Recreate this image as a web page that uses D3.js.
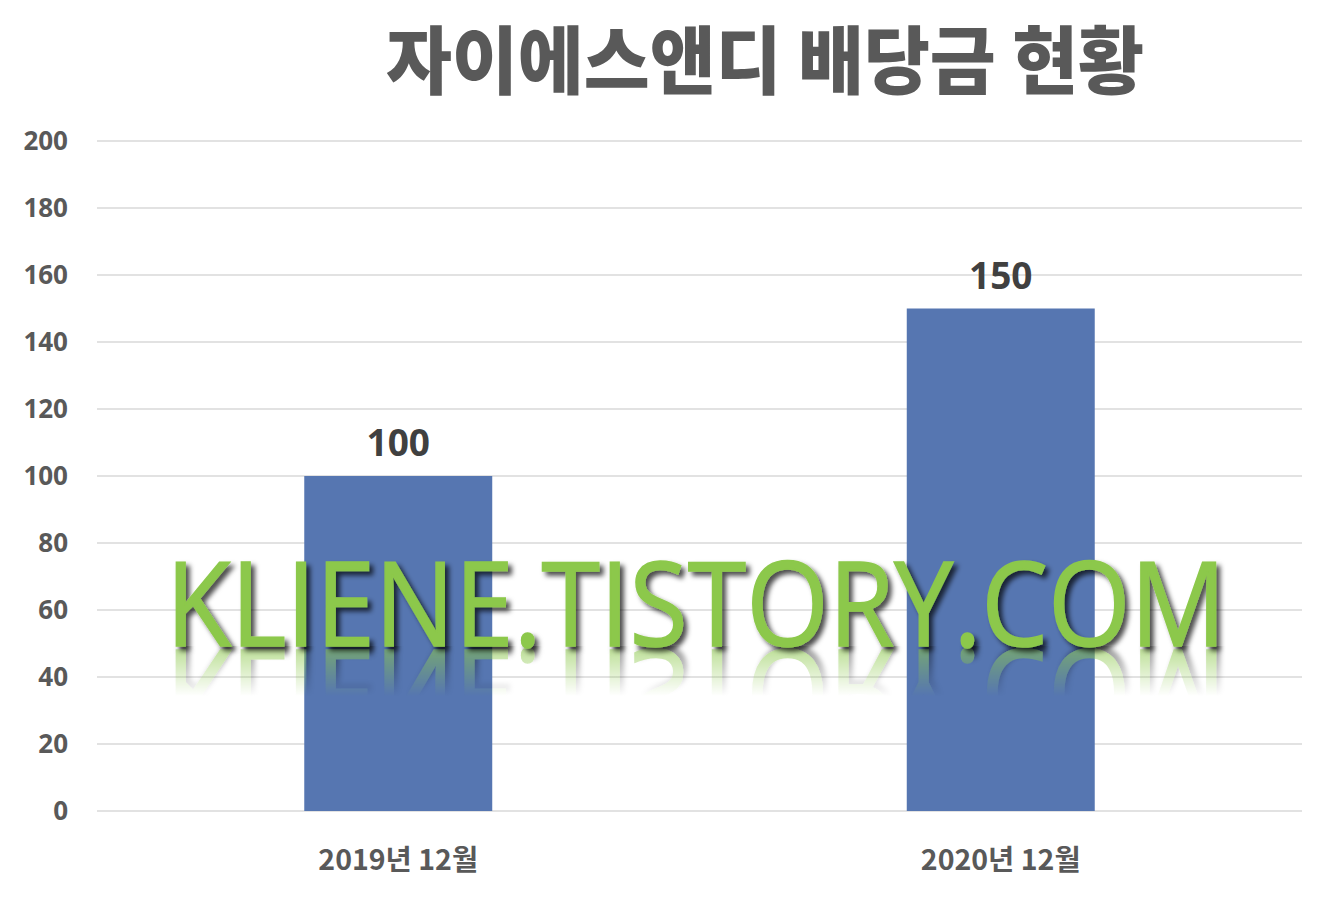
<!DOCTYPE html>
<html>
<head>
<meta charset="utf-8">
<script src="https://cdn.jsdelivr.net/npm/d3@7"></script>
<style>
  html, body { margin: 0; padding: 0; background: #fff; }
  svg { display: block; }
</style>
</head>
<body>
<svg id="chart" width="1336" height="910"></svg>
<script>
const title = '자이에스앤디 배당금 현황';
const categories = ['2019년 12월', '2020년 12월'];
const dividends = [100, 150];
const yTicks = [0, 20, 40, 60, 80, 100, 120, 140, 160, 180, 200];
const watermark = 'KLIENE.TISTORY.COM';

const svg = d3.select('#chart');
const margin = { top: 141, right: 34, bottom: 99, left: 97 };
const width = 1336 - margin.left - margin.right;
const height = 910 - margin.top - margin.bottom;

const x = d3.scaleBand()
  .domain(categories)
  .range([margin.left, margin.left + width])
  .paddingInner(0.688)
  .paddingOuter(0.344);

const y = d3.scaleLinear()
  .domain([0, 200])
  .range([margin.top + height, margin.top]);

// title
svg.append('text')
  .attr('x', 765)
  .attr('y', 88)
  .attr('text-anchor', 'middle')
  .attr('textLength', 758)
  .attr('lengthAdjust', 'spacingAndGlyphs')
  .attr('fill', '#595959')
  .style('font-family', '"Noto Sans CJK KR", sans-serif')
  .style('font-weight', 900)
  .style('font-size', '74px')
  .text(title);

// grid lines
svg.append('g')
  .selectAll('line')
  .data(yTicks)
  .join('line')
  .attr('x1', margin.left)
  .attr('x2', margin.left + width)
  .attr('y1', d => y(d))
  .attr('y2', d => y(d))
  .attr('stroke', '#d9d9d9')
  .attr('stroke-width', 1.5);

// y axis labels
const yAxis = d3.axisLeft(y).tickValues(yTicks).tickSize(0).tickPadding(0);
svg.append('g')
  .attr('transform', `translate(68,0)`)
  .call(yAxis)
  .call(g => g.select('.domain').remove())
  .selectAll('text')
  .attr('fill', '#595959')
  .style('font-family', '"Open Sans", sans-serif')
  .style('font-weight', 700)
  .style('font-size', '26px');

// bars
svg.append('g')
  .selectAll('rect')
  .data(dividends)
  .join('rect')
  .attr('x', (d, i) => x(categories[i]))
  .attr('y', d => y(d))
  .attr('width', x.bandwidth())
  .attr('height', d => y(0) - y(d))
  .attr('fill', '#5676b1');

// data labels
svg.append('g')
  .selectAll('text')
  .data(dividends)
  .join('text')
  .attr('x', (d, i) => x(categories[i]) + x.bandwidth() / 2)
  .attr('y', d => y(d) - 20)
  .attr('text-anchor', 'middle')
  .attr('fill', '#404040')
  .style('font-family', '"Open Sans", sans-serif')
  .style('font-weight', 700)
  .style('font-size', '37px')
  .text(d => d);

// x axis labels
const xAxis = d3.axisBottom(x).tickSize(0).tickPadding(0);
svg.append('g')
  .attr('transform', `translate(0,${y(0) + 39})`)
  .call(xAxis)
  .call(g => g.select('.domain').remove())
  .selectAll('text')
  .attr('dy', '0.71em')
  .attr('fill', '#595959')
  .style('font-family', '"Noto Sans CJK KR", sans-serif')
  .style('font-weight', 700)
  .style('font-size', '28.5px');

// watermark with shadow and reflection
const defs = svg.append('defs');
const shadow = defs.append('filter')
  .attr('id', 'wmShadow')
  .attr('x', '-5%').attr('y', '-20%')
  .attr('width', '110%').attr('height', '140%');
shadow.append('feDropShadow')
  .attr('dx', 4).attr('dy', 4)
  .attr('stdDeviation', 2.5)
  .attr('flood-color', '#000')
  .attr('flood-opacity', 0.7);

const wmBase = 646;
const grad = defs.append('linearGradient')
  .attr('id', 'reflGrad')
  .attr('gradientUnits', 'userSpaceOnUse')
  .attr('x1', 0).attr('x2', 0)
  .attr('y1', wmBase).attr('y2', wmBase + 50);
grad.append('stop').attr('offset', '0%').attr('stop-color', '#fff').attr('stop-opacity', 0.6);
grad.append('stop').attr('offset', '100%').attr('stop-color', '#fff').attr('stop-opacity', 0);

const mask = defs.append('mask')
  .attr('id', 'reflMask')
  .attr('maskUnits', 'userSpaceOnUse')
  .attr('x', 0).attr('y', wmBase).attr('width', 1336).attr('height', 60);
mask.append('rect')
  .attr('x', 0).attr('y', wmBase)
  .attr('width', 1336).attr('height', 60)
  .attr('fill', 'url(#reflGrad)');

function wmText(sel) {
  return sel
    .attr('x', 166)
    .attr('y', wmBase)
    .attr('textLength', 1060)
    .attr('lengthAdjust', 'spacingAndGlyphs')
    .attr('fill', '#8cc84b')
    .attr('stroke', '#8cc84b')
    .attr('stroke-width', 1.5)
    .style('font-family', '"Open Sans", sans-serif')
    .style('font-weight', 400)
    .style('font-size', '117px')
    .text(watermark);
}

svg.append('g')
  .attr('mask', 'url(#reflMask)')
  .append('text')
  .attr('transform', `translate(0,${wmBase * 2 + 4}) scale(1,-1)`)
  .attr('filter', 'url(#wmShadow)')
  .call(wmText);

svg.append('text')
  .attr('filter', 'url(#wmShadow)')
  .call(wmText);
</script>
</body>
</html>
